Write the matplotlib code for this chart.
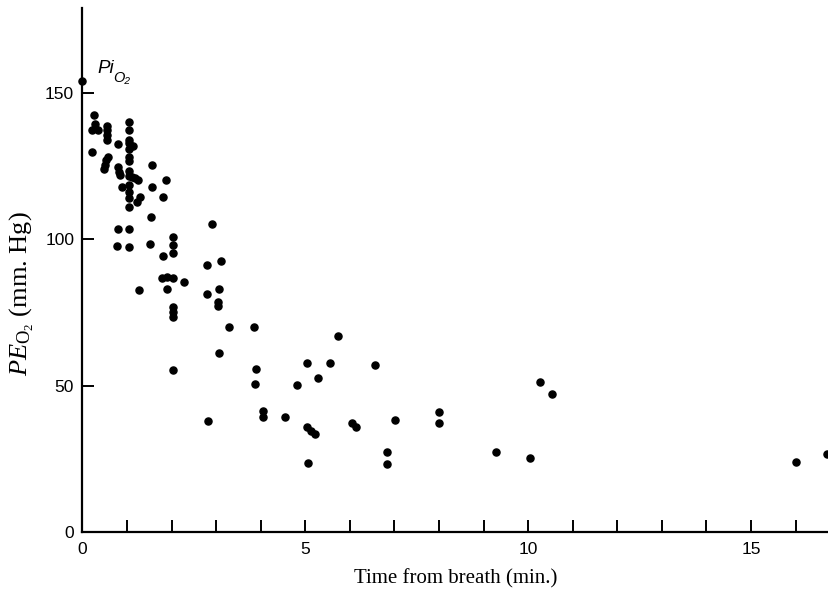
import numpy as np
import matplotlib.pyplot as plt
from matplotlib.ticker import MultipleLocator

# time from breath (min.) and end-tidal PO2 (mm. Hg)
time_min = [
    0.26, 0.22, 0.28, 0.35, 0.22,
    0.55, 0.55, 0.55, 0.55, 0.57, 0.53, 0.50, 0.49,
    0.80, 0.80, 0.83, 0.84, 0.88, 0.80, 0.78,
    1.04, 1.04, 1.04, 1.04, 1.04, 1.04, 1.04, 1.04, 1.04,
    1.04, 1.04, 1.04, 1.04, 1.04, 1.04,
    1.13, 1.10, 1.18, 1.24, 1.29, 1.23, 1.27,
    1.55, 1.55, 1.53, 1.51, 1.87, 1.81, 1.81, 1.78, 1.89, 1.89,
    2.04, 2.04, 2.04, 2.04, 2.04, 2.04, 2.04, 2.04, 2.28,
    2.90, 2.79, 3.11, 2.79, 3.07, 3.05, 3.05, 3.06, 2.82,
    3.29, 3.85, 3.89, 3.87, 4.04, 4.04, 4.54, 4.82,
    5.04, 5.55, 5.29, 5.73, 6.56, 5.03, 5.12, 5.22, 5.05,
    6.04, 6.14, 6.84, 6.84, 7.01, 8.00, 8.00,
    9.28, 10.05, 10.26, 10.54, 16.02, 16.71,
]
po2 = [
    142.5, 137.5, 139.5, 137.5, 130.0,
    138.8, 137.3, 135.6, 133.9, 128.0, 127.0, 125.4, 124.0,
    132.5, 124.8, 123.0, 122.0, 117.8, 103.5, 97.8,
    140.0, 137.5, 134.0, 132.8, 131.0, 128.2, 126.8, 123.5, 121.8,
    118.5, 116.3, 114.0, 111.1, 103.5, 97.5,
    132.0, 121.4, 120.8, 120.2, 114.6, 112.8, 82.7,
    125.4, 118.0, 107.5, 98.4, 120.3, 114.3, 94.4, 86.7, 87.2, 83.0,
    100.7, 98.0, 95.2, 86.9, 77.0, 75.3, 73.6, 55.5, 85.5,
    105.1, 91.2, 92.7, 81.3, 82.9, 78.7, 77.2, 61.0, 38.0,
    70.1, 70.1, 55.6, 50.6, 41.4, 39.4, 39.2, 50.2,
    57.9, 57.9, 52.5, 67.1, 57.0, 35.8, 34.6, 33.5, 23.5,
    37.1, 35.8, 27.2, 23.2, 38.3, 41.1, 37.3,
    27.2, 25.2, 51.3, 47.1, 24.0, 26.6,
]
# inspired PO2
pi_time = [0.0]
pi_po2 = [154.0]

plt.rcParams['font.family'] = ['Liberation Sans', 'DejaVu Sans']
plt.rcParams['mathtext.fontset'] = 'custom'
plt.rcParams['mathtext.rm'] = 'Liberation Serif'
plt.rcParams['mathtext.it'] = 'Liberation Serif:italic'

fig = plt.figure(figsize=(8.29, 5.96), dpi=100)
ax = fig.add_axes([0.0995, 0.1074, 0.9005, 0.879])

ax.scatter(time_min, po2, s=26, color='black', zorder=3, clip_on=False)
ax.scatter(pi_time, pi_po2, s=26, color='black', zorder=3, clip_on=False)
# "Pi" with a lowered "O2"
ax.text(0.33, 158.5, 'Pi', fontsize=13.5, fontstyle='italic',
        ha='left', va='center')
ax.text(0.70, 155.0, 'O\u2082', fontsize=10.5, fontstyle='italic',
        ha='left', va='center')

ax.set_xlim(0, 16.75)
ax.set_ylim(0, 179)
ax.spines['top'].set_visible(False)
ax.spines['right'].set_visible(False)
ax.spines['left'].set_linewidth(1.6)
ax.spines['bottom'].set_linewidth(1.6)

ax.xaxis.set_major_locator(MultipleLocator(5))
ax.xaxis.set_minor_locator(MultipleLocator(1))
ax.set_yticks([0, 50, 100, 150])
ax.tick_params(axis='both', which='both', direction='in', length=8.5,
               width=1.4, labelsize=12.5)
ax.tick_params(axis='x', pad=7)
ax.tick_params(axis='y', pad=6)

ax.set_xlabel('Time from breath (min.)', fontfamily='Liberation Serif',
              fontsize=15, labelpad=9)
ax.set_ylabel('$PE_{\\mathrm{O_2}}$ (mm. Hg)', fontfamily='Liberation Serif',
              fontsize=19)
ax.yaxis.set_label_coords(-0.062, 0.455)

plt.savefig('out.png', dpi=100)
